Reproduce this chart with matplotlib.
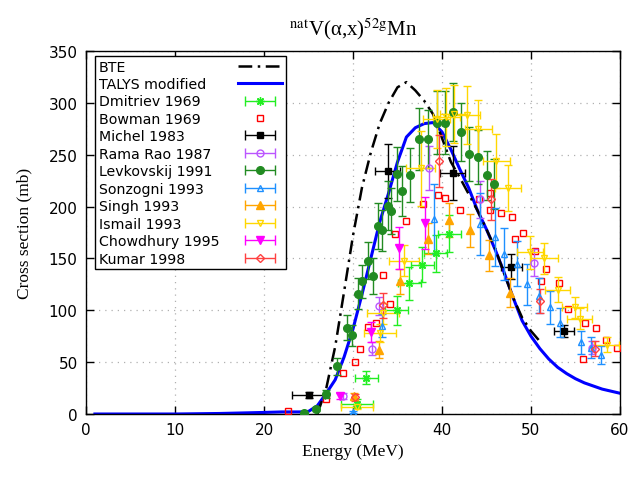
import numpy as np
import matplotlib
matplotlib.use("Agg")
import matplotlib.pyplot as plt
from matplotlib.lines import Line2D
from matplotlib.container import ErrorbarContainer
from matplotlib.legend_handler import HandlerErrorbar

# ---------------- data ----------------
talys_e = [1, 5, 10, 15, 20, 22, 24, 25, 26, 27, 28, 29, 30, 31, 32, 33, 34, 35, 36, 37, 38, 39, 40, 41, 42, 43, 44, 45, 46, 47, 48, 49, 50, 51, 52, 53, 54, 55, 56, 57, 58, 59, 60]
talys_s = [0, 0, 0, 0.5, 1.5, 2, 2, 2.5, 8, 20, 33, 55, 82, 115, 150, 185, 213, 243, 267, 276, 280, 281, 272, 255, 236, 218, 196, 178, 158, 136, 112, 90, 75, 63, 53, 45, 39, 34, 30, 27, 24, 22, 20]

bte_e = [26, 27, 28, 29, 30, 31, 32, 33, 34, 35, 36, 37, 38, 39, 40, 41, 42, 43, 44, 45, 46, 47, 48, 49, 50, 51]
bte_s = [0, 25, 65, 118, 172, 218, 252, 280, 300, 315, 320, 312, 302, 289, 266, 243, 228, 212, 196, 178, 159, 135, 112, 93, 80, 70]

dmi_e = [30.4, 31.5, 34.9, 36.3, 37.8, 39.3, 40.8]
dmi_s = [10, 35, 100, 126, 144, 155, 174]
dmi_xe = [1.8, 1.3, 1.3, 1.3, 1.3, 1.3, 1.3]
dmi_ye = [4, 6, 14, 16, 17, 18, 18]

bow_e = [22.7, 27.0, 28.9, 30.2, 30.8, 31.7, 32.6, 33.4, 34.2, 34.7, 36.0, 37.9, 39.6, 40.3, 42.0, 44.2, 45.4, 45.4, 46.6, 47.9, 48.2, 49.1, 50.4, 51.1, 51.7, 53.1, 54.2, 55.8, 56.1, 57.3, 58.4, 59.7]
bow_s = [3, 14.5, 40, 50, 63, 84, 88, 134, 106, 174, 186, 202, 211, 208, 197, 207, 213, 197, 194, 190, 169, 175, 157, 128, 140, 126, 101, 53, 88, 83, 71, 64]

mic_e = [25.0, 33.9, 41.2, 47.8, 53.7]
mic_s = [18, 234, 232, 142, 80]
mic_xe = [1.8, 1.4, 1.4, 1.2, 1.1]
mic_ye = [3, 26, 26, 12, 6]

ram_e = [28.9, 32.1, 32.9, 38.5, 44.3, 50.3, 56.8]
ram_s = [17, 63, 104, 237, 207, 146, 64]
ram_ye = [3, 6, 9, 21, 18, 13, 6]

lev_e = [24.5, 25.8, 27.0, 28.2, 29.35, 29.85, 30.55, 31.0, 31.7, 32.3, 32.85, 33.25, 33.9, 34.3, 34.9, 35.5, 36.4, 37.45, 38.45, 39.45, 40.35, 41.25, 42.1, 43.05, 44.0, 45.0, 45.8]
lev_s = [1, 5, 19, 46, 83, 76, 116, 128, 148, 133, 181, 177, 201, 196, 231, 215, 230, 265, 265, 281, 281, 291, 272, 251, 248, 230, 222]
lev_ye = [1, 2, 4, 8, 12, 10, 15, 16, 18, 17, 22, 20, 24, 22, 26, 24, 26, 30, 28, 30, 30, 28, 28, 26, 26, 24, 24]

son_e = [30.0, 33.3, 39.1, 44.3, 46.0, 47.0, 48.4, 49.6, 50.9, 52.1, 53.3, 55.6, 56.7, 57.9]
son_s = [2, 85, 188, 183, 171, 154, 145, 125, 114, 103, 88, 69, 64, 57]
son_ye = [1, 11, 34, 30, 28, 25, 22, 20, 17, 16, 14, 11, 10, 9]

sin_e = [30.1, 32.9, 35.3, 38.4, 40.8, 43.1, 45.3, 47.6]
sin_s = [17, 62, 128, 169, 187, 177, 153, 117]
sin_ye = [3, 8, 12, 15, 16, 16, 15, 14]

ism_e = [30.4, 33.0, 33.4, 35.7, 37.6, 39.4, 40.5, 41.3, 42.8, 44.1, 46.1, 47.4, 49.9, 51.5, 53.0, 54.9, 55.5, 58.5]
ism_s = [7, 78, 97, 148, 237, 284, 286, 289, 288, 275, 244, 218, 156, 150, 120, 103, 92, 67]
ism_xe = [1.8, 1.8, 1.8, 1.7, 1.6, 1.5, 1.5, 1.5, 1.5, 1.5, 1.5, 1.5, 1.5, 1.5, 1.4, 1.4, 1.4, 1.4]
ism_ye = [2, 9, 10, 15, 36, 28, 28, 28, 28, 28, 26, 22, 16, 15, 12, 10, 10, 7]

cho_e = [28.5, 32.0, 35.2, 38.1]
cho_s = [17, 79, 160, 184]
cho_ye = [3, 10, 20, 25]

kum_e = [30.2, 33.4, 39.7, 45.5, 51.0, 57.2]
kum_s = [16, 105, 244, 207, 109, 63]
kum_ye = [3, 12, 25, 20, 12, 7]

# ---------------- style ----------------
plt.rcParams['font.family'] = ['DejaVu Sans']
plt.rcParams['mathtext.fontset'] = 'stix'

fig = plt.figure(figsize=(6.31, 4.81), dpi=100)
ax = fig.add_axes([86/631, 1-415/481, (620-86)/631, (415-52)/481])

ax.plot(talys_e, talys_s, color='#0000ff', lw=2.2, zorder=2)
ax.plot(bte_e, bte_s, color='black', lw=1.8, dashes=(5.5, 2.2, 1.0, 2.2), zorder=2)

ekw = dict(elinewidth=1.0, capsize=3, capthick=1.0, ls='none', zorder=3)
ax.errorbar(dmi_e, dmi_s, xerr=dmi_xe, yerr=dmi_ye, color='#22ee22', marker=(8, 2, 0), ms=6, mew=1, **ekw)
ax.plot(bow_e, bow_s, ls='none', marker='s', ms=5, mfc='none', mec='#ff0000', mew=1.0, zorder=3)
ax.errorbar(mic_e, mic_s, xerr=mic_xe, yerr=mic_ye, color='black', marker='s', ms=5, **ekw)
ax.errorbar(ram_e, ram_s, yerr=ram_ye, color='#bb55ff', marker='o', ms=5, mfc='none', mew=1.0, **ekw)
ax.errorbar(lev_e, lev_s, yerr=lev_ye, color='#228b22', marker='o', ms=5.5, **ekw)
ax.errorbar(son_e, son_s, yerr=son_ye, color='#1e90ff', marker='^', ms=5, mfc='none', mew=1.0, **ekw)
ax.errorbar(sin_e, sin_s, yerr=sin_ye, color='#ffa500', marker='^', ms=5.5, **ekw)
ax.errorbar(ism_e, ism_s, xerr=ism_xe, yerr=ism_ye, color='#ffd700', marker='v', ms=5, mfc='none', mew=1.0, **ekw)
ax.errorbar(cho_e, cho_s, yerr=cho_ye, color='#ff00ff', marker='v', ms=5.5, **ekw)
ax.errorbar(kum_e, kum_s, yerr=kum_ye, color='#ff4040', marker='D', ms=4, mfc='none', mew=1.0, **ekw)

ax.set_xlim(0, 60)
ax.set_ylim(0, 350)
ax.set_xticks(np.arange(0, 61, 10))
ax.set_yticks(np.arange(0, 351, 50))
ax.tick_params(direction='in', length=6, width=1, top=True, right=True, labelsize=11, pad=6)
ax.grid(True, ls=(0, (1, 4)), color='#b0b0b0', lw=0.9)
for s in ax.spines.values():
    s.set_linewidth(1.0)

ax.set_xlabel('Energy (MeV)', family='Liberation Serif', fontsize=12.5, labelpad=4)
ax.set_ylabel('Cross section (mb)', family='Liberation Serif', fontsize=12.5, labelpad=12)
ax.set_title(r'$^{\mathrm{nat}}$V(α,x)$^{\mathrm{52g}}$Mn', family='Liberation Serif', fontsize=15, pad=12)

# ---------------- legend (gnuplot style) ----------------
def eh(color, marker, ms, mfc=None, mew=1.0):
    return ax.errorbar([np.nan], [np.nan], xerr=[1.0], color=color, marker=marker, ms=ms,
                       mfc=(mfc if mfc is not None else color), mec=color, mew=mew,
                       ls='none', elinewidth=1.0, capsize=3.5, capthick=1.0)

handles = [
    Line2D([], [], color='black', lw=1.8, dashes=(5.5, 2.2, 1.0, 2.2)),
    Line2D([], [], color='#0000ff', lw=2.2),
    eh('#22ee22', (8, 2, 0), 6),
    Line2D([], [], ls='none', marker='s', ms=5, mfc='none', mec='#ff0000', mew=1.0),
    eh('black', 's', 5),
    eh('#bb55ff', 'o', 5, 'none', 1.0),
    eh('#228b22', 'o', 5.5),
    eh('#1e90ff', '^', 5, 'none', 1.0),
    eh('#ffa500', '^', 5.5),
    eh('#ffd700', 'v', 5, 'none', 1.0),
    eh('#ff00ff', 'v', 5.5),
    eh('#ff4040', 'D', 4, 'none', 1.0),
]
labels = ['BTE', 'TALYS modified', 'Dmitriev 1969', 'Bowman 1969', 'Michel 1983',
          'Rama Rao 1987', 'Levkovskij 1991', 'Sonzogni 1993', 'Singh 1993',
          'Ismail 1993', 'Chowdhury 1995', 'Kumar 1998']

leg = ax.legend(handles, labels, loc='upper left', bbox_to_anchor=(9/534, 1-5/363),
                markerfirst=False, fontsize=10.2, frameon=True, fancybox=False,
                edgecolor='black', framealpha=1, borderpad=0.25, labelspacing=0.245,
                handlelength=3.1, handletextpad=1.35, borderaxespad=0,
                handler_map={ErrorbarContainer: HandlerErrorbar(xerr_size=1.05)})
leg.get_frame().set_linewidth(1.0)
leg.set_zorder(10)

# left-align the texts, keep samples in a right-hand column
fig.canvas.draw()
r = fig.canvas.get_renderer()
p2pt = 72.0 / fig.dpi
cols = leg._legend_handle_box.get_children()
items = [it for col in cols for it in col.get_children()]
widths = [it.get_children()[0].get_window_extent(r).width for it in items]
mw = max(widths)
base = items[0].sep
for it, w in zip(items, widths):
    it.sep = base + (mw - w) * p2pt

fig.savefig('out.png', dpi=100)
